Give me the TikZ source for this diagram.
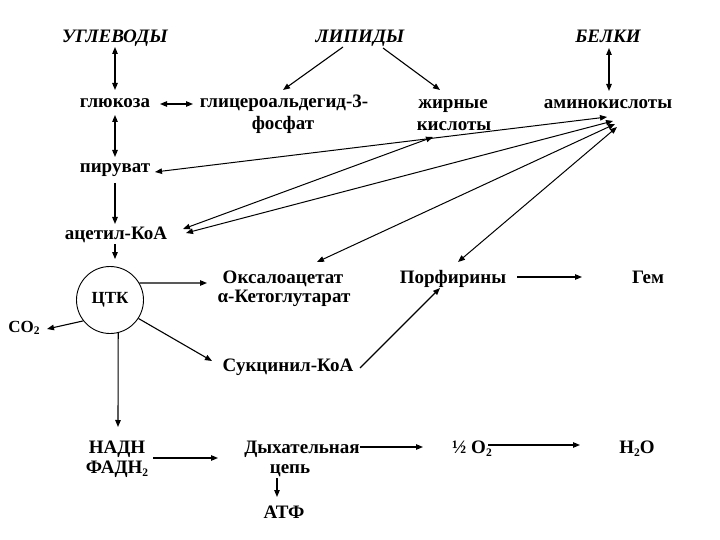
\documentclass[tikz,border=0pt]{standalone}
\usepackage{fontspec}
\setmainfont{Liberation Serif}
\usetikzlibrary{arrows.meta,calc}
\newcommand\subtwo{\raisebox{-0.35ex}{\fontsize{11.5}{12}\selectfont 2}}
\begin{document}
\begin{tikzpicture}[x=1pt,y=-1pt,
  lbl/.style={font=\fontsize{19}{21}\selectfont\bfseries, inner sep=0pt, anchor=base},
  head/.style={font=\fontsize{19}{21}\selectfont\bfseries\itshape, inner sep=0pt, anchor=base},
  arr/.style={line width=1.1pt, -{Triangle[length=7pt,width=5.5pt]}},
  dbl/.style={line width=1.1pt, {Triangle[length=7pt,width=5.5pt]}-{Triangle[length=7pt,width=5.5pt]}},
  fan/.style={line width=1pt, {Triangle[length=7pt,width=5.5pt]}-{Triangle[length=7pt,width=5.5pt]}}]
\useasboundingbox[fill=white] (0,0) rectangle (720,540);

% headings
\node[head] (ugl) at (115,43) {УГЛЕВОДЫ};
\node[head] (lip) at (360,43) {ЛИПИДЫ};
\node[head] (bel) at (608,43) {БЕЛКИ};

% nodes
\node[lbl] (glu) at (115,108) {глюкоза};
\node[lbl] (gly1) at (284,108) {глицероальдегид-3-};
\node[lbl] (gly2) at (283,130) {фосфат};
\node[lbl] (fat1) at (453,109) {жирные};
\node[lbl] (fat2) at (454,131) {кислоты};
\node[lbl] (amino) at (608,109) {аминокислоты};
\node[lbl] (pyr) at (115,173) {пируват};
\node[lbl] (acet) at (116,240) {ацетил-КоА};
\node[circle, draw, line width=0.9pt, minimum size=67pt, inner sep=0pt,
      font=\fontsize{17}{19}\selectfont\bfseries] (tca) at (110,300) {ЦТК};
\node[lbl, font=\fontsize{17}{19}\selectfont\bfseries] (co2) at (24,332) {CO\subtwo};
\node[lbl] (oxa) at (283,283) {Оксалоацетат};
\node[lbl] (akg) at (284,302) {α-Кетоглутарат};
\node[lbl] (por) at (453,283) {Порфирины};
\node[lbl] (gem) at (648,283) {Гем};
\node[lbl] (suc) at (288,371) {Сукцинил-КоА};
\node[lbl] (nadh) at (117,453) {НАДН};
\node[lbl] (fadh) at (117,473) {ФАДН\subtwo};
\node[lbl] (resp1) at (302,453) {Дыхательная};
\node[lbl] (resp2) at (290,473) {цепь};
\node[lbl] (atf) at (284,518) {АТФ};
\node[lbl] (o2) at (472,453) {½ O\subtwo};
\node[lbl] (h2o) at (637,453) {H\subtwo O};

% vertical chain
\draw[dbl] ($(ugl.base)+(0,4)$) -- ($(glu.base)+(0,-18)$);
\draw[dbl] ($(glu.base)+(45,-4)$) -- ($(gly1.base)+(-91,-4)$);
\draw[arr] ($(lip.base)+(-17,4)$) -- ($(gly1.base)+(-1,-18)$);
\draw[arr] ($(lip.base)+(23,5)$) -- ($(fat1.base)+(-13,-19)$);
\draw[dbl] ($(bel.base)+(1,5)$) -- ($(amino.base)+(1,-18)$);
\draw[dbl] ($(glu.base)+(0,7)$) -- ($(pyr.base)+(0,-16)$);
\draw[arr] ($(pyr.base)+(0,10)$) -- ($(acet.base)+(-1,-16)$);
\draw[arr] ($(acet.base)+(-1,4)$) -- ($(tca.north)+(5,-7)$);

% TCA outputs
\draw[arr] (tca.30) -- ($(oxa.base)+(-76,0)$);
\draw[arr] (tca.218) -- ($(co2.base)+(23,-3)$);
\draw[arr] (tca.-33) -- ($(suc.base)+(-76,-10)$);
\draw[arr] (tca.-76) -- ($(nadh.base)+(1,-26)$);

% respiration
\draw[arr] ($(nadh.base)+(36,5)$) -- ($(resp1.base)+(-84,5)$);
\draw[arr] ($(resp2.base)+(-13,5)$) -- ($(atf.base)+(-7,-21)$);
\draw[arr] ($(resp1.base)+(58,-6)$) -- ($(o2.base)+(-49,-6)$);
\draw[arr] ($(o2.base)+(16,-8)$) -- ($(h2o.base)+(-57,-8)$);

% porphyrins
\draw[arr] ($(por.base)+(64,-6)$) -- ($(gem.base)+(-66,-6)$);
\draw[arr] ($(suc.base)+(72,-3)$) -- ($(por.base)+(-13,5)$);

% fan to amino acids / fatty acids
\draw[fan] ($(pyr.base)+(40,-1)$) -- ($(amino.base)+(-1,8)$);
\draw[fan] ($(acet.base)+(67,-11)$) -- ($(fat2.base)+(-21,6)$);
\draw[fan] ($(acet.base)+(70,-7)$) -- ($(amino.base)+(5,12)$);
\draw[fan] ($(oxa.base)+(34,-21)$) -- ($(amino.base)+(7,15)$);
\draw[fan] ($(por.base)+(5,-21)$) -- ($(amino.base)+(9,18)$);
\end{tikzpicture}
\end{document}
